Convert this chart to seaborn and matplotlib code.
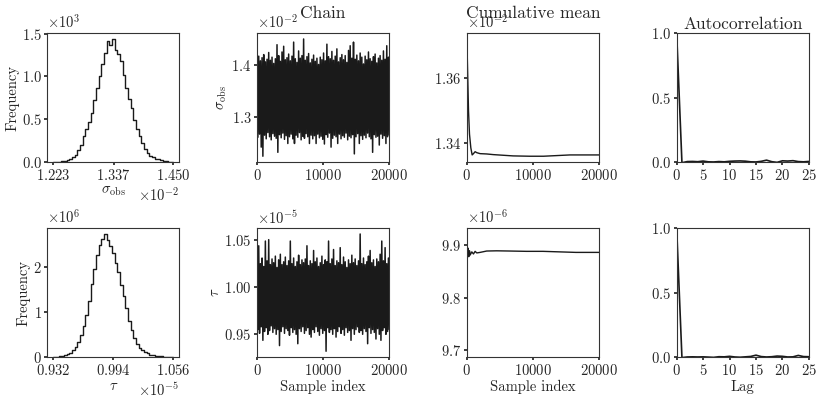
import numpy as np
import pandas as pd
import matplotlib
matplotlib.use("Agg")
import matplotlib.pyplot as plt
from matplotlib.ticker import MultipleLocator
import seaborn as sns

# ---- data (scaled units, see *_unit) ----
sig_unit = 1e-2
tau_unit = 1e-5
tau_cm_unit = 1e-6

# histogram bin heights (density), 45 bins between the outer ticks
sig_ticks = [1.223, 1.337, 1.450]
sig_hist = [0.001, 0.003, 0.006, 0.010, 0.016, 0.023, 0.035, 0.058, 0.085, 0.14,
            0.20, 0.30, 0.39, 0.47, 0.57, 0.73, 0.86, 1.00, 1.15, 1.28,
            1.42, 1.37, 1.435, 1.31, 1.26, 1.18, 1.02, 0.87, 0.74, 0.63,
            0.49, 0.39, 0.30, 0.22, 0.15, 0.11, 0.075, 0.055, 0.040, 0.032,
            0.022, 0.014, 0.009, 0.004, 0.002]  # x 10^3

tau_ticks = [0.932, 0.994, 1.056]
tau_hist = [0.005, 0.010, 0.018, 0.030, 0.045, 0.07, 0.10, 0.15, 0.22, 0.34,
            0.49, 0.68, 0.93, 1.25, 1.62, 1.95, 2.25, 2.48, 2.62, 2.72,
            2.60, 2.46, 2.30, 2.08, 1.88, 1.60, 1.36, 1.08, 0.80, 0.60,
            0.42, 0.29, 0.21, 0.15, 0.11, 0.08, 0.055, 0.040, 0.028, 0.020,
            0.014, 0.010, 0.007, 0.004, 0.002]  # x 10^6

# chain: max / min in each block of 250 samples
n_samples = 20000
sig_hi = [1.440, 1.418, 1.409, 1.415, 1.421, 1.407, 1.412, 1.425, 1.410, 1.416,
          1.404, 1.413, 1.440, 1.419, 1.408, 1.426, 1.437, 1.411, 1.415, 1.422,
          1.409, 1.418, 1.445, 1.413, 1.406, 1.428, 1.414, 1.419, 1.451, 1.410,
          1.417, 1.423, 1.405, 1.412, 1.420, 1.408, 1.414, 1.402, 1.416, 1.411,
          1.424, 1.409, 1.441, 1.417, 1.413, 1.427, 1.410, 1.418, 1.432, 1.407,
          1.415, 1.421, 1.411, 1.419, 1.406, 1.429, 1.438, 1.414, 1.445, 1.412,
          1.420, 1.409, 1.424, 1.416, 1.403, 1.418, 1.411, 1.426, 1.413, 1.408,
          1.417, 1.422, 1.405, 1.414, 1.419, 1.410, 1.428, 1.412, 1.438, 1.416]
sig_lo = [1.262, 1.268, 1.243, 1.2255, 1.266, 1.259, 1.271, 1.263, 1.257, 1.269,
          1.264, 1.260, 1.233, 1.267, 1.261, 1.270, 1.258, 1.265, 1.250, 1.263,
          1.268, 1.259, 1.250, 1.266, 1.262, 1.271, 1.257, 1.264, 1.260, 1.269,
          1.263, 1.250, 1.266, 1.259, 1.265, 1.250, 1.268, 1.261, 1.264, 1.258,
          1.249, 1.267, 1.262, 1.270, 1.243, 1.260, 1.266, 1.263, 1.250, 1.268,
          1.259, 1.265, 1.262, 1.270, 1.257, 1.264, 1.261, 1.267, 1.230, 1.263,
          1.269, 1.250, 1.265, 1.258, 1.266, 1.261, 1.270, 1.263, 1.259, 1.233,
          1.267, 1.262, 1.264, 1.247, 1.268, 1.260, 1.265, 1.250, 1.263, 1.266]
tau_hi = [1.027, 1.044, 1.025, 1.031, 1.022, 1.049, 1.028, 1.0505, 1.024, 1.030,
          1.026, 1.033, 1.021, 1.029, 1.035, 1.024, 1.027, 1.032, 1.023, 1.028,
          1.049, 1.025, 1.031, 1.022, 1.027, 1.034, 1.024, 1.029, 1.026, 1.030,
          1.044, 1.023, 1.028, 1.025, 1.039, 1.027, 1.031, 1.022, 1.026, 1.033,
          1.024, 1.029, 1.027, 1.049, 1.025, 1.030, 1.040, 1.023, 1.028, 1.026,
          1.042, 1.024, 1.032, 1.027, 1.021, 1.029, 1.025, 1.034, 1.026, 1.030,
          1.023, 1.028, 1.0565, 1.025, 1.031, 1.024, 1.027, 1.033, 1.039, 1.026,
          1.029, 1.022, 1.030, 1.027, 1.035, 1.049, 1.028, 1.042, 1.025, 1.031]
tau_lo = [0.955, 0.951, 0.958, 0.9436, 0.953, 0.957, 0.950, 0.954, 0.959, 0.952,
          0.956, 0.950, 0.955, 0.938, 0.953, 0.958, 0.951, 0.956, 0.954, 0.949,
          0.957, 0.952, 0.955, 0.950, 0.940, 0.956, 0.953, 0.958, 0.951, 0.954,
          0.957, 0.950, 0.947, 0.955, 0.952, 0.958, 0.953, 0.949, 0.956, 0.951,
          0.954, 0.932, 0.957, 0.952, 0.955, 0.950, 0.956, 0.947, 0.953, 0.958,
          0.951, 0.955, 0.949, 0.957, 0.952, 0.954, 0.9436, 0.956, 0.950, 0.955,
          0.958, 0.952, 0.954, 0.950, 0.956, 0.953, 0.940, 0.957, 0.951, 0.955,
          0.952, 0.945, 0.956, 0.950, 0.9436, 0.954, 0.957, 0.950, 0.953, 0.955]

# cumulative mean
sig_cm_idx = [0, 100, 250, 400, 600, 800, 1000, 1250, 1500, 2000, 3000, 4000,
              5500, 7000, 9500, 11600, 13600, 15600, 17600, 20000]
sig_cm = [1.3720, 1.3633, 1.3498, 1.3426, 1.3384, 1.3362, 1.3366, 1.3372, 1.3369,
          1.3366, 1.3365, 1.3363, 1.3361, 1.3359, 1.3358, 1.3358, 1.3360, 1.3362,
          1.3362, 1.3362]
tau_cm_idx = [0, 2, 30, 60, 100, 200, 300, 400, 500, 750, 1000, 1250, 1500, 2000,
              3000, 4500, 6500, 9000, 11500, 14000, 16500, 20000]
tau_cm = [9.698, 9.921, 9.902, 9.874, 9.878, 9.894, 9.878, 9.889, 9.881, 9.887,
          9.883, 9.888, 9.885, 9.886, 9.8886, 9.889, 9.8886, 9.888, 9.888, 9.887,
          9.886, 9.886]

# autocorrelation
lags = list(range(26))
sig_acf = [1.0, -0.005, 0.004, 0.005, 0.003, 0.008, 0.002, 0.001, 0.004, 0.002,
           0.006, 0.008, 0.009, 0.007, 0.002, 0.001, 0.006, 0.015, 0.003, -0.002,
           0.010, 0.008, 0.011, 0.004, 0.002, 0.005]
tau_acf = [1.0, -0.004, 0.001, 0.002, 0.001, 0.002, 0.000, -0.002, 0.003, 0.002,
           0.006, 0.001, -0.001, 0.002, 0.005, 0.015, 0.004, 0.001, 0.003, 0.008,
           0.006, 0.001, 0.002, 0.013, 0.004, 0.003]

# ---- style ----
sns.set_theme(style="ticks")
plt.rcParams.update({
    "font.family": "serif",
    "font.serif": ["cmr10"],
    "mathtext.fontset": "cm",
    "axes.formatter.use_mathtext": True,
    "font.size": 10.5,
    "axes.labelsize": 10.5,
    "axes.titlesize": 12.5,
    "xtick.labelsize": 10.5,
    "ytick.labelsize": 10.5,
    "xtick.major.size": 2.5,
    "ytick.major.size": 2.5,
    "xtick.major.pad": 1.5,
    "ytick.major.pad": 1.5,
    "axes.labelpad": 1.5,
    "axes.linewidth": 0.8,
    "axes.edgecolor": "0.2",
})

fig, axes = plt.subplots(2, 4, figsize=(8.22, 3.99), dpi=100)
fig.subplots_adjust(left=0.0575, right=0.984, bottom=0.105, top=0.917,
                    wspace=0.587, hspace=0.512)

rows = [
    dict(name=r"$\sigma_{\rm obs}$", ticks=sig_ticks, hist=sig_hist, hscale=1e3,
         unit=sig_unit, hi=sig_hi, lo=sig_lo, cm_idx=sig_cm_idx, cm=sig_cm,
         cm_unit=sig_unit, cm_step=0.02, acf=sig_acf),
    dict(name=r"$\tau$", ticks=tau_ticks, hist=tau_hist, hscale=1e6,
         unit=tau_unit, hi=tau_hi, lo=tau_lo, cm_idx=tau_cm_idx, cm=tau_cm,
         cm_unit=tau_cm_unit, cm_step=0.1, acf=tau_acf),
]

for r, row in enumerate(rows):
    ax_h, ax_c, ax_m, ax_a = axes[r]

    # histogram
    ticks = np.array(row["ticks"]) * row["unit"]
    edges = np.linspace(ticks[0], ticks[-1], len(row["hist"]) + 1)
    hist_df = pd.DataFrame({
        "value": 0.5 * (edges[:-1] + edges[1:]),
        "density": np.array(row["hist"]) * row["hscale"],
    })
    sns.histplot(data=hist_df, x="value", weights="density", bins=list(edges),
                 element="step", fill=False, color="k", linewidth=1.0, ax=ax_h)
    ax_h.set_ylim(bottom=0)
    ax_h.set_xticks(ticks)
    ax_h.set_ylabel("Frequency")
    ax_h.set_xlabel(row["name"])
    ax_h.ticklabel_format(axis="both", style="sci", scilimits=(0, 0))

    # chain (block max / min drawn as a zig-zag trace)
    trace = np.column_stack([row["hi"], row["lo"]]).ravel() * row["unit"]
    idx = np.linspace(0, n_samples, len(trace))
    sns.lineplot(x=idx, y=trace, color="k", linewidth=1.1, estimator=None,
                 sort=False, ax=ax_c)
    ax_c.set_xlim(0, n_samples)
    ax_c.set_xticks([0, 10000, 20000])
    ax_c.set_ylabel(row["name"])
    ax_c.ticklabel_format(axis="y", style="sci", scilimits=(0, 0))

    # cumulative mean
    sns.lineplot(x=row["cm_idx"], y=np.array(row["cm"]) * row["cm_unit"],
                 color="k", linewidth=1.0, estimator=None, sort=False, ax=ax_m)
    ax_m.set_xlim(0, n_samples)
    ax_m.set_xticks([0, 10000, 20000])
    ax_m.yaxis.set_major_locator(MultipleLocator(row["cm_step"] * row["cm_unit"]))
    ax_m.ticklabel_format(axis="y", style="sci", scilimits=(0, 0))

    # autocorrelation
    sns.lineplot(x=lags, y=row["acf"], color="k", linewidth=1.2,
                 estimator=None, ax=ax_a)
    ax_a.set_xlim(0, 25)
    ax_a.set_ylim(0, 1)
    ax_a.set_xticks(range(0, 26, 5))
    ax_a.set_yticks([0, 0.5, 1.0])

    for ax in (ax_c, ax_m, ax_a):
        ax.set_xlabel("")
    for ax in (ax_m, ax_a):
        ax.set_ylabel("")
    if r == 1:
        ax_c.set_xlabel("Sample index")
        ax_m.set_xlabel("Sample index")
        ax_a.set_xlabel("Lag")

axes[0, 1].set_title("Chain", y=1.0, pad=10.8)
axes[0, 2].set_title("Cumulative mean", y=1.0, pad=10.8)
axes[0, 3].set_title("Autocorrelation", y=1.0, pad=2.9)

for ax in axes.flat:
    for s in ax.spines.values():
        s.set_visible(True)

fig.savefig("out.png", dpi=100)
